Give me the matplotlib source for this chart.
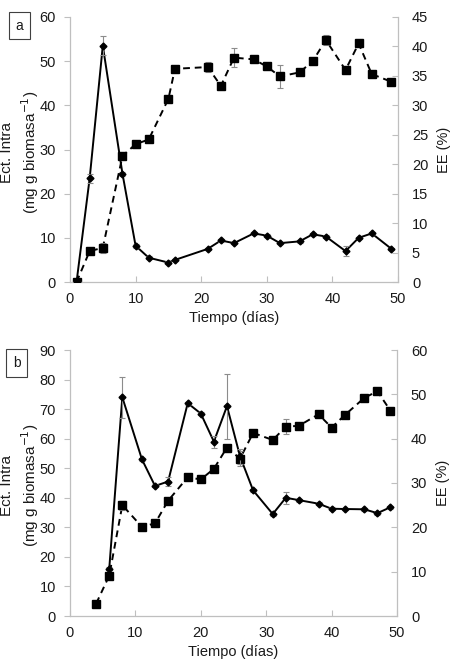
import matplotlib
matplotlib.use("Agg")
import matplotlib.pyplot as plt
import numpy as np

plt.rcParams['font.family'] = ['Liberation Sans', 'DejaVu Sans']

# Panel a
a_x_ect = [1, 3, 5, 8, 10, 12, 15, 16, 21, 23, 25, 28, 30, 32, 35, 37, 39, 42, 44, 46, 49]
a_ect = [0, 23.5, 53.5, 24.5, 8.2, 5.5, 4.4, 5.0, 7.5, 9.4, 8.8, 11.0, 10.5, 8.8, 9.2, 10.8, 10.3, 7.0, 10.0, 11.0, 7.5]
a_ect_err = [0, 1.0, 2.2, 0.5, 0.4, 0.3, 0.3, 0.3, 0.3, 0.3, 0.3, 0.3, 0.3, 0.3, 0.3, 0.3, 0.3, 1.2, 0.3, 0.3, 0.3]
a_x_ee = [1, 3, 5, 8, 10, 12, 15, 16, 21, 23, 25, 28, 30, 32, 35, 37, 39, 42, 44, 46, 49]
a_ee = [0, 5.25, 5.8, 21.4, 23.4, 24.2, 31.1, 36.2, 36.5, 33.3, 38.1, 37.8, 36.6, 34.9, 35.6, 37.5, 41.1, 36.0, 40.5, 35.3, 34.0]
a_ee_err = [0, 0.3, 0.8, 0.3, 0.6, 0.5, 0.3, 0.3, 0.8, 0.3, 1.6, 0.3, 0.3, 1.9, 0.3, 0.3, 0.8, 0.3, 0.3, 0.3, 0.3]

# Panel b
b_x_ect = [6, 8, 11, 13, 15, 18, 20, 22, 24, 26, 28, 31, 33, 35, 38, 40, 42, 45, 47, 49]
b_ect = [16, 74, 53, 44, 45.5, 72, 68.5, 59, 71, 54, 42.5, 34.5, 40, 39.2, 38, 36.3, 36.2, 36.1, 34.8, 36.8]
b_ect_err = [0.5, 7, 0.5, 0.5, 1.5, 0.5, 0.5, 2, 11, 2.5, 0.5, 0.5, 2, 0.5, 0.5, 0.5, 0.5, 0.5, 0.5, 0.5]
b_x_ee = [4, 6, 8, 11, 13, 15, 18, 20, 22, 24, 26, 28, 31, 33, 35, 38, 40, 42, 45, 47, 49]
b_ee = [2.8, 9.1, 25.0, 20.1, 20.9, 26.0, 31.3, 30.8, 33.2, 38.0, 35.5, 41.3, 39.7, 42.7, 42.9, 45.5, 42.5, 45.3, 49.2, 50.7, 46.3]
b_ee_err = [0.2, 0.3, 1.0, 0.3, 0.3, 0.3, 0.3, 0.3, 0.3, 0.3, 1.7, 0.3, 0.3, 1.7, 0.3, 0.3, 0.5, 0.3, 0.3, 0.3, 0.3]

x_ticks = [0, 10, 20, 30, 40, 50]
ylabel_left = "Ect. Intra\n(mg g biomasa$^{-1}$)"
ylabel_right = "EE (%)"
xlabel = "Tiempo (días)"

W, H = 458, 666
fig = plt.figure(figsize=(W / 100, H / 100), dpi=100)

gray = '#bfbfbf'
tcol = '#1a1a1a'


def make_panel(rect, label, xe, ye, ee_, xs, ys, es, lmax, lstep, rmax, rstep, lbl_pos, width_px):
    ax = fig.add_axes(rect)
    ax2 = ax.twinx()
    ax.set_zorder(ax2.get_zorder() + 1)
    ax.patch.set_visible(False)
    # EE dashed squares (right axis)
    ax2.errorbar(xs, ys, yerr=es, fmt='s', color='black', ms=5.5,
                 ecolor='#8c8c8c', elinewidth=0.8, capsize=2, capthick=0.8, zorder=3)
    ax2.plot(xs, ys, color='black', lw=1.4, ls=(0, (3.5, 2.5)), zorder=2)
    # Ect solid diamonds (left axis)
    ax.errorbar(xe, ye, yerr=ee_, fmt='D', color='black', ms=3.5,
                ecolor='#8c8c8c', elinewidth=0.8, capsize=2, capthick=0.8, zorder=3)
    ax.plot(xe, ye, color='black', lw=1.4, zorder=2)

    ax.set_xlim(0, 50)
    ax.set_ylim(0, lmax)
    ax2.set_ylim(0, rmax)
    ax.set_xticks(x_ticks)
    ax.set_yticks(np.arange(0, lmax + 0.1, lstep))
    ax2.set_yticks(np.arange(0, rmax + 0.1, rstep))
    for a in (ax, ax2):
        for s in a.spines.values():
            s.set_visible(False)
    ax.spines['left'].set_visible(True)
    ax.spines['bottom'].set_visible(True)
    ax2.spines['right'].set_visible(True)
    for s in (ax.spines['left'], ax.spines['bottom'], ax2.spines['right']):
        s.set_color(gray)
        s.set_linewidth(0.9)
    ax.tick_params(axis='y', direction='out', length=4, color=gray, labelsize=10.5,
                   labelcolor=tcol, pad=6)
    ax.tick_params(axis='x', direction='in', length=4, color=gray, labelsize=10.5,
                   labelcolor=tcol, pad=7)
    ax2.tick_params(axis='y', direction='in', length=4, color=gray, labelsize=10.5,
                    labelcolor=tcol, pad=10)
    ax.set_xlabel(xlabel, fontsize=10.5, color=tcol, labelpad=4)
    ax.set_ylabel(ylabel_left, fontsize=11, color=tcol, linespacing=1.3)
    ax.yaxis.set_label_coords(-(70 - 41) / width_px, 0.49)
    ax2.set_ylabel(ylabel_right, fontsize=10.5, color=tcol, labelpad=6)
    fig.text(lbl_pos[0], lbl_pos[1], label, fontsize=10, color=tcol, ha='center', va='center',
             bbox=dict(boxstyle='square,pad=0.5', fc='white', ec='#404040', lw=0.8))
    return ax, ax2


# panel a: x 70..398, y 17..282
make_panel([70 / W, 1 - 282 / H, 328 / W, 265 / H], 'a',
           a_x_ect, a_ect, a_ect_err, a_x_ee, a_ee, a_ee_err,
           60, 10, 45, 5, (19.5 / W, 1 - 25.5 / H), 328)
# panel b: x 70..397, y 350..616
make_panel([70 / W, 1 - 616 / H, 327 / W, 266 / H], 'b',
           b_x_ect, b_ect, b_ect_err, b_x_ee, b_ee, b_ee_err,
           90, 10, 60, 10, (16.5 / W, 1 - 363 / H), 327)

fig.savefig('out.png', dpi=100)
